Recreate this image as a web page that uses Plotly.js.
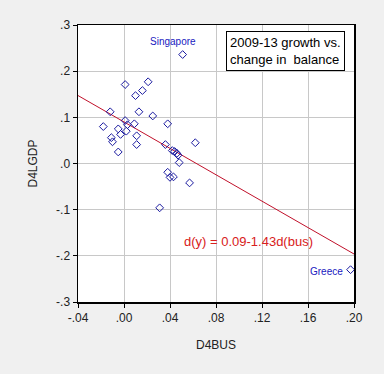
<!DOCTYPE html>
<html>
<head>
<meta charset="utf-8">
<script src="https://cdn.plot.ly/plotly-3.0.1.min.js"></script>
<style>
html,body{margin:0;padding:0;background:#f0f0f0;}
#chart{width:384px;height:374px;}
</style>
</head>
<body>
<div id="chart"></div>
<script>
// D4BUS (change in balance) values
const d4bus = [0.051, 0.001, 0.021, 0.016, 0.010, -0.012, 0.013, 0.025, 0.001, -0.018,
  -0.005, 0.003, 0.009, 0.002, -0.003, 0.011, 0.038, -0.011, -0.010, 0.011,
  -0.005, 0.036, 0.042, 0.044, 0.046, 0.047, 0.062, 0.048, 0.038, 0.040,
  0.043, 0.057, 0.031, 0.197];
// D4LGDP (2009-13 growth) values
const d4lgdp = [0.236, 0.171, 0.177, 0.158, 0.147, 0.112, 0.112, 0.103, 0.093, 0.080,
  0.075, 0.084, 0.086, 0.070, 0.063, 0.060, 0.086, 0.056, 0.047, 0.041,
  0.025, 0.041, 0.028, 0.026, 0.022, 0.018, 0.045, 0.002, -0.019, -0.030,
  -0.029, -0.042, -0.096, -0.230];
// regression: d(y) = 0.09 - 1.43 d(bus)
const fitIntercept = 0.09;
const fitSlope = -1.43;
const fitX = [-0.04, 0.20];
const fitY = fitX.map(v => fitIntercept + fitSlope * v);

const xTickVals = [-0.04, 0.00, 0.04, 0.08, 0.12, 0.16, 0.20];
const xTickText = ["-.04", ".00", ".04", ".08", ".12", ".16", ".20"];
const yTickVals = [0.3, 0.2, 0.1, 0.0, -0.1, -0.2, -0.3];
const yTickText = [".3", ".2", ".1", ".0", "-.1", "-.2", "-.3"];

const font = "Liberation Sans, Arial, sans-serif";

const traces = [
  {
    x: fitX, y: fitY, type: "scatter", mode: "lines",
    line: {color: "#c0102a", width: 1}, hoverinfo: "skip"
  },
  {
    x: d4bus, y: d4lgdp, type: "scatter", mode: "markers",
    marker: {symbol: "diamond-open", size: 6, color: "#1a1aa0", line: {width: 1, color: "#1a1aa0"}}
  }
];

const plotW = 384 - 78 - 30, plotH = 374 - 25 - 72;
function px2paperX(px){ return (px - 78) / plotW; }
function px2paperY(py){ return (374 - 72 - py) / plotH; }

const layout = {
  width: 384, height: 374,
  paper_bgcolor: "#f0f0f0", plot_bgcolor: "#ffffff",
  margin: {l: 78, r: 30, t: 25, b: 72},
  showlegend: false,
  font: {family: font, size: 12, color: "#222"},
  xaxis: {
    range: [-0.04, 0.20], tickvals: xTickVals, ticktext: xTickText,
    showgrid: true, gridcolor: "#c8c8c8", gridwidth: 1, zeroline: false,
    showline: true, linecolor: "#000", linewidth: 1.5, mirror: true,
    ticks: "outside", ticklen: 4, tickcolor: "#000",
    tickfont: {family: font, size: 12, color: "#222"},
    title: {text: "D4BUS", font: {family: font, size: 12, color: "#222"}, standoff: 16},
    automargin: false
  },
  yaxis: {
    range: [-0.3, 0.3], tickvals: yTickVals, ticktext: yTickText,
    showgrid: true, gridcolor: "#c8c8c8", gridwidth: 1, zeroline: false,
    showline: true, linecolor: "#000", linewidth: 1.5, mirror: true,
    ticks: "outside", ticklen: 4, tickcolor: "#000",
    tickfont: {family: font, size: 12, color: "#222"},
    title: {text: "D4LGDP", font: {family: font, size: 12, color: "#222"}, standoff: 16},
    automargin: false
  },
  annotations: [
    {x: 0.051, y: 0.236, xref: "x", yref: "y", text: "Singapore", showarrow: false,
     yshift: 13, xshift: -10, font: {family: font, size: 10, color: "#2020c0"}},
    {x: 0.197, y: -0.230, xref: "x", yref: "y", text: "Greece", showarrow: false,
     xanchor: "right", xshift: -6, yshift: -2, font: {family: font, size: 10, color: "#2020c0"}},
    {x: px2paperX(248), y: px2paperY(241), xref: "paper", yref: "paper",
     xanchor: "center", yanchor: "middle", text: "d(y) = 0.09-1.43d(bus)", showarrow: false,
     font: {family: font, size: 13, color: "#d82020"}},
    {x: px2paperX(285), y: px2paperY(51), xref: "paper", yref: "paper",
     xanchor: "center", yanchor: "middle",
     text: "2009-13 growth vs.<br>change in  balance", showarrow: false,
     font: {family: font, size: 13, color: "#000"},
     align: "left", bordercolor: "#000", borderwidth: 1, borderpad: 3, bgcolor: "#fff"}
  ]
};

Plotly.newPlot("chart", traces, layout, {displayModeBar: false, staticPlot: true});
</script>
</body>
</html>
